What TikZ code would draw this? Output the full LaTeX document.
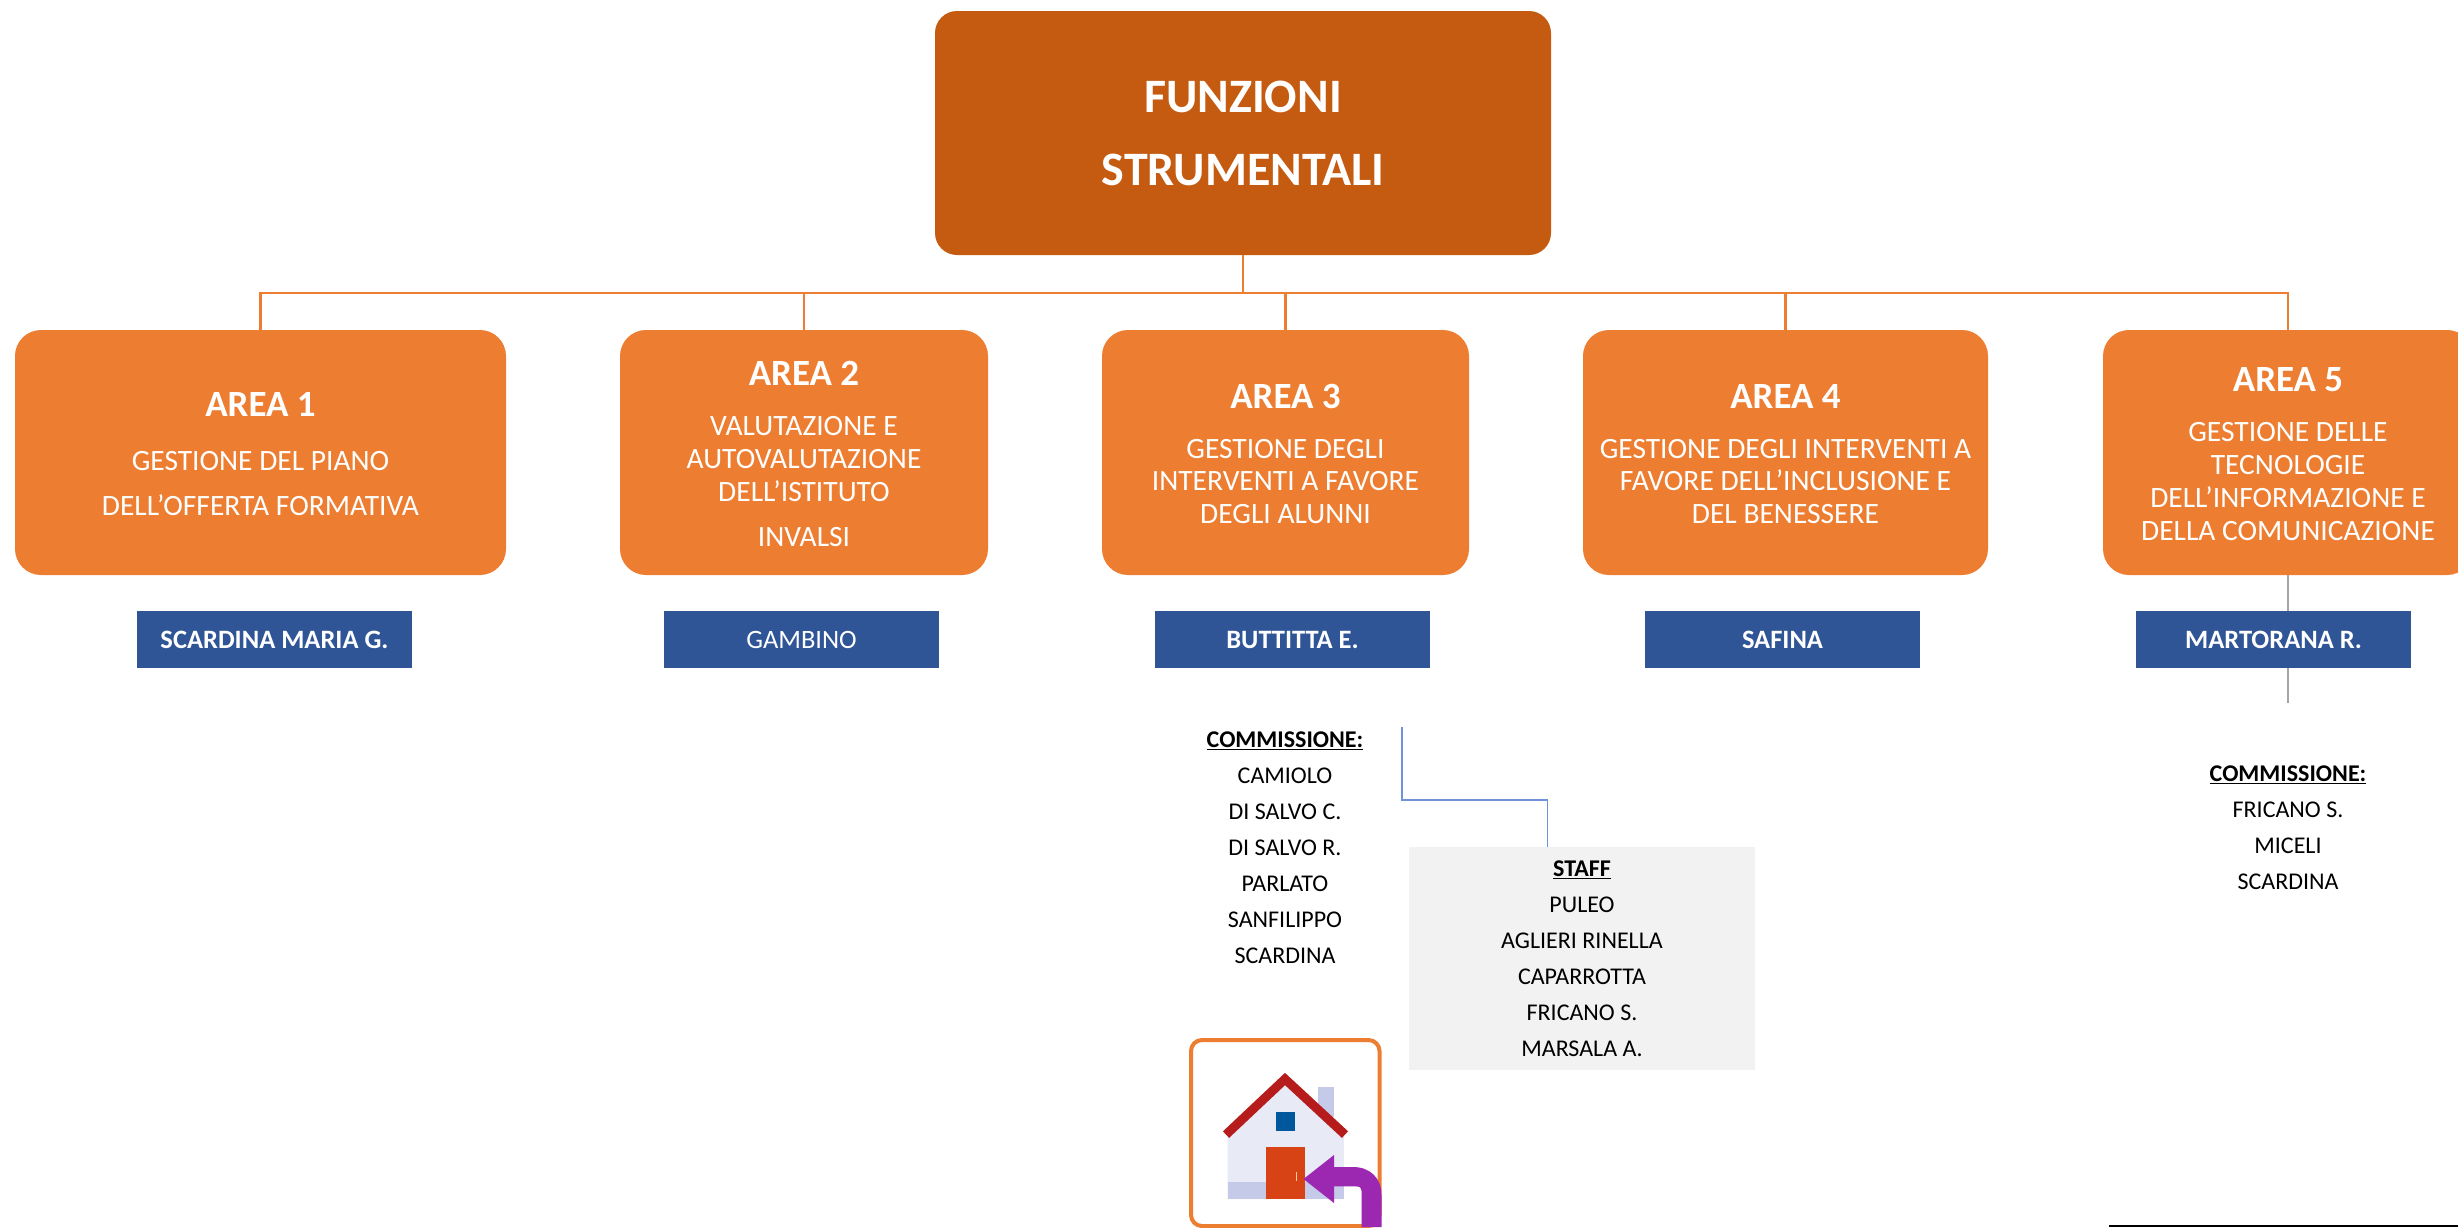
\documentclass[tikz,border=0pt]{standalone}
\usepackage{fontspec}
\setmainfont{Carlito}
\definecolor{topc}{HTML}{C55A11}
\definecolor{areac}{HTML}{ED7D31}
\definecolor{bluec}{HTML}{2F5597}
\definecolor{staffc}{HTML}{F2F2F2}
\definecolor{greyc}{HTML}{A5A5A5}
\definecolor{linkc}{HTML}{6F93D8}
\definecolor{wallc}{HTML}{E8EAF6}
\definecolor{shadec}{HTML}{C5CAE9}
\definecolor{roofc}{HTML}{B71C1C}
\definecolor{winc}{HTML}{01579B}
\definecolor{doorc}{HTML}{D84315}
\definecolor{purc}{HTML}{9C27B0}
\tikzset{
  x=1pt,y=-1pt,
  topbox/.style={fill=topc,rounded corners=22pt,minimum width=616pt,minimum height=244pt,inner sep=0pt,text=white,align=center,font=\fontsize{48}{73}\selectfont\bfseries},
  areabox/.style={fill=areac,rounded corners=26pt,minimum height=245pt,inner sep=0pt,text=white,align=center,font=\fontsize{29.5}{32.8}\selectfont},
  namebox/.style={fill=bluec,minimum width=275pt,minimum height=57pt,inner sep=0pt,text=white,font=\fontsize{26.5}{30}\selectfont},
  nameboxb/.style={namebox,font=\fontsize{26.5}{30}\selectfont\bfseries},
  listtext/.style={inner sep=0pt,align=center,font=\fontsize{24}{36}\selectfont},
  staffbox/.style={fill=staffc,minimum width=346pt,minimum height=223pt,inner sep=0pt,align=center,font=\fontsize{24}{36}\selectfont},
  conn/.style={draw=areac,line width=2.8pt},
  connthin/.style={draw=areac,line width=2.2pt},
  greyline/.style={draw=greyc,line width=2.6pt},
  linkline/.style={draw=linkc,line width=1.8pt},
}
\newcommand{\areahead}[1]{{\fontsize{37}{37}\selectfont\bfseries\rule{0pt}{27pt}#1}}
\begin{document}
\begin{tikzpicture}
\useasboundingbox (0,0) rectangle (2458,1227);
\clip (0,0) rectangle (2458,1227);
\node[topbox] (top) at (1243,133) {FUNZIONI\\STRUMENTALI};
\node[areabox,minimum width=491pt] (a1) at (260.5,452.5) {\areahead{AREA 1}\\[21pt]GESTIONE DEL PIANO\\[12pt]DELL’OFFERTA FORMATIVA};
\node[areabox,minimum width=368pt] (a2) at (804,452.5) {\areahead{AREA 2}\\[17pt]VALUTAZIONE E\\AUTOVALUTAZIONE\\DELL’ISTITUTO\\[12pt]INVALSI};
\node[areabox,minimum width=367pt] (a3) at (1285.5,452.5) {\areahead{AREA 3}\\[17pt]GESTIONE DEGLI\\INTERVENTI A FAVORE\\DEGLI ALUNNI};
\node[areabox,minimum width=405pt] (a4) at (1785.5,452.5) {\areahead{AREA 4}\\[17pt]GESTIONE DEGLI INTERVENTI A\\FAVORE DELL’INCLUSIONE E\\DEL BENESSERE};
\node[areabox,minimum width=370pt] (a5) at (2288,452.5) {\areahead{AREA 5}\\[17pt]GESTIONE DELLE\\TECNOLOGIE\\DELL’INFORMAZIONE E\\DELLA COMUNICAZIONE};
\node[nameboxb] (m1) at (274.5,639.5) {SCARDINA MARIA G.};
\node[namebox] (m2) at (801.5,639.5) {GAMBINO};
\node[nameboxb] (m3) at (1292.5,639.5) {BUTTITTA E.};
\node[nameboxb] (m4) at (1782.5,639.5) {SAFINA};
\node[nameboxb] (m5) at (2273.5,639.5) {MARTORANA R.};
\node[listtext,anchor=north] (c3) at (1285,732) {\underline{\textbf{COMMISSIONE:}}\\CAMIOLO\\DI SALVO C.\\DI SALVO R.\\PARLATO\\SANFILIPPO\\SCARDINA};
\node[staffbox] (staff) at (1582,958.5) {\underline{\textbf{STAFF}}\\PULEO\\AGLIERI RINELLA\\CAPARROTTA\\FRICANO S.\\MARSALA A.};
\node[listtext,anchor=north] (c5) at (2288,766) {\underline{\textbf{COMMISSIONE:}}\\FRICANO S.\\MICELI\\SCARDINA};
% connectors
\coordinate (bus) at (1243,293);
\draw[conn] (top.south) -- (bus);
\draw[conn] (a1.north) -- (a1.north |- bus) -- (a5.north |- bus) -- (a5.north);
\draw[connthin] (a2.north) -- (a2.north |- bus);
\draw[connthin] (a3.north) -- (a3.north |- bus);
\draw[connthin] (a4.north) -- (a4.north |- bus);
\draw[greyline] (a5.south) -- (a5.south |- m5.north);
\coordinate (gend) at (2288,703);
\draw[greyline] (gend |- m5.south) -- (gend);
\coordinate (lstart) at (1402,727);
\coordinate (lmid) at (1402,800);
\coordinate (lend) at (1547.5,847);
\draw[linkline] (lstart) -- (lmid) -| (lend);
% bottom rule
\coordinate (ra) at (2109,1226);
\coordinate (rb) at (2458,1226);
\draw[black,line width=2pt] (ra) -- (rb);
% home icon
\draw[draw=areac,fill=white,line width=4pt,rounded corners=11pt] (1191,1040) rectangle (1379.5,1226);
\fill[wallc] (1227.6,1137) -- (1285,1085) -- (1343.8,1137) -- (1343.8,1199) -- (1227.6,1199) -- cycle;
\fill[shadec] (1318,1086.5) rectangle (1334,1117);
\fill[shadec] (1227.6,1182) rectangle (1343.8,1199);
\draw[roofc,line width=9pt] (1226,1134.6) -- (1285,1079) -- (1345,1134.6);
\fill[winc] (1275.7,1112.4) rectangle (1295,1131);
\fill[doorc] (1265.8,1147) rectangle (1305,1198.5);
\fill[orange!40] (1296,1172) rectangle (1297,1181);
\fill[purc] (1303.5,1179) -- (1334,1155) -- (1334,1167) -- (1353,1167)
  .. controls (1370,1167) and (1381.5,1178) .. (1381.5,1195) -- (1381.5,1227) -- (1361.6,1227) -- (1361.6,1191)
  .. controls (1361.6,1188) and (1360,1186.4) .. (1356,1186.4) -- (1334,1186.4) -- (1334,1203) -- cycle;
\end{tikzpicture}
\end{document}
